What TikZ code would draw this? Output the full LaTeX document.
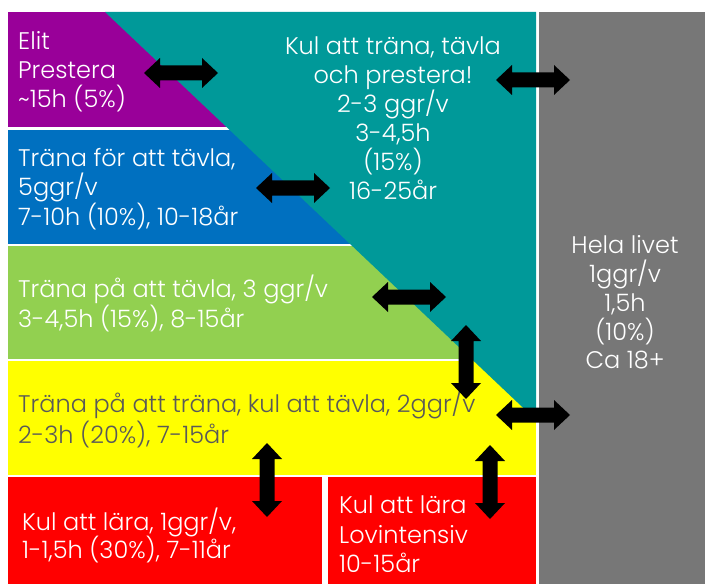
\documentclass[tikz,border=0pt]{standalone}
\usepackage{fontspec}
\setmainfont{Poppins}[UprightFont=* Light]
\definecolor{cpurple}{HTML}{990099}
\definecolor{cteal}{HTML}{009999}
\definecolor{cblue}{HTML}{0070C0}
\definecolor{cgreen}{HTML}{92D050}
\definecolor{cyellow}{HTML}{FFFF00}
\definecolor{cred}{HTML}{FF0000}
\definecolor{cgray}{HTML}{777777}
\definecolor{ctext}{HTML}{595959}
\tikzset{
  lbl/.style={inner sep=0pt, font=\fontsize{24bp}{28bp}\selectfont, text=white},
  lblw/.style={lbl, anchor=base west},
  lblc/.style={lbl, anchor=base},
  dblarrow/.pic={\fill[black] (-37,0) -- (-21,-15) -- (-21,-7.5) -- (21,-7.5) -- (21,-15) -- (37,0) -- (21,15) -- (21,7.5) -- (-21,7.5) -- (-21,15) -- cycle;}
}
\begin{document}
\begin{tikzpicture}[x=1bp,y=-1bp]
\useasboundingbox (0,0) rectangle (705,584);
\fill[white] (0,0) rectangle (705,584);
% bands
\fill[cpurple] (8,12) rectangle (536,127);
\fill[cblue] (8,130) rectangle (536,244);
\fill[cgreen] (8,246) rectangle (536,359);
\fill[cyellow] (8,361) rectangle (536,475);
\fill[cred] (8,477) rectangle (322,584);
\fill[cred] (328,477) rectangle (536,584);
\fill[cteal] (105,12) -- (536,12) -- (536,420) -- cycle;
\fill[cgray] (539,12) rectangle (705,584);
% purple
\node[lblw] (e1) at (18,50) {Elit};
\node[lblw] (e2) at (18,79) {Prestera};
\node[lblw] (e3) at (18,108) {\textasciitilde 15h (5\%)};
% blue
\node[lblw] (b1) at (18,167) {Träna för att tävla,};
\node[lblw] (b2) at (18,196) {5ggr/v};
\node[lblw] (b3) at (18,225) {7-10h (10\%), 10-18år};
% teal
\node[lblc] (t1) at (393,55) {Kul att träna, tävla};
\node[lblc] (t2) at (393,84) {och prestera!};
\node[lblc] (t3) at (393,113) {2-3 ggr/v};
\node[lblc] (t4) at (393,142) {3-4,5h};
\node[lblc] (t5) at (393,171) {(15\%)};
\node[lblc] (t6) at (393,200) {16-25år};
% gray
\node[lblc] (g1) at (625,253) {Hela livet};
\node[lblc] (g2) at (625,282) {1ggr/v};
\node[lblc] (g3) at (625,311) {1,5h};
\node[lblc] (g4) at (625,340) {(10\%)};
\node[lblc] (g5) at (625,368) {Ca 18+};
% green
\node[lblw] (n1) at (18,297) {Träna på att tävla, 3 ggr/v};
\node[lblw] (n2) at (18,327) {3-4,5h (15\%), 8-15år};
% yellow
\node[lblw, text=ctext] (y1) at (18,412) {Träna på att träna, kul att tävla, 2ggr/v};
\node[lblw, text=ctext] (y2) at (18,443) {2-3h (20\%), 7-15år};
% red left
\node[lblw] (r1) at (22,530) {Kul att lära, 1ggr/v,};
\node[lblw] (r2) at (22,558) {1-1,5h (30\%), 7-11år};
% red right
\node[lblw] (s1) at (339,513) {Kul att lära};
\node[lblw] (s2) at (339,543) {Lovintensiv};
\node[lblw] (s3) at (339,572) {10-15år};
% arrows
\pic (a1) at (181,73) {dblarrow};
\pic (a2) at (533,80) {dblarrow};
\pic (a3) at (293,188) {dblarrow};
\pic (a4) at (409,297) {dblarrow};
\pic (a6) at (533,415) {dblarrow};
\pic[rotate=90] (a5) at (466,362) {dblarrow};
\pic[rotate=90] (a7) at (267,480) {dblarrow};
\pic[rotate=90] (a8) at (490,482) {dblarrow};
\end{tikzpicture}
\end{document}
